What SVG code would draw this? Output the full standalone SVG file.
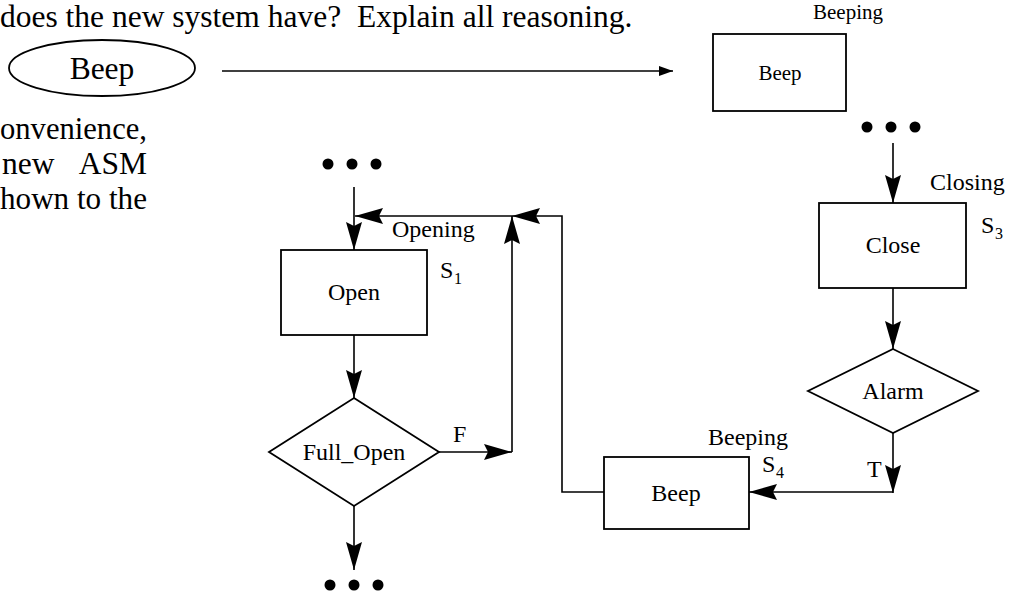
<svg xmlns="http://www.w3.org/2000/svg" width="1017" height="593" viewBox="0 0 1017 593">
  <style>
    text { font-family: "Liberation Serif", "Times New Roman", serif; fill: #000; }
    .body { font-size: 31.5px; white-space: pre; }
    .lbl { font-size: 24px; }
    .sub { font-size: 16px; }
    .small { font-size: 21px; }
    .mid { text-anchor: middle; }
    .shape { fill: #fff; stroke: #000; stroke-width: 1.8; }
    .wire { fill: none; stroke: #000; stroke-width: 1.6; }
    .dot { fill: #000; }
  </style>
  <defs>
    <marker id="head" viewBox="0 0 28 16" markerWidth="28" markerHeight="16" refX="28" refY="8" markerUnits="userSpaceOnUse" orient="auto">
      <path d="M0,0 L28,8 L0,16 L4,8 z" fill="#000"/>
    </marker>
    <marker id="headSmall" viewBox="0 0 14 10" markerWidth="14" markerHeight="10" refX="14" refY="5" markerUnits="userSpaceOnUse" orient="auto">
      <path d="M0,0 L14,5 L0,10 z" fill="#000"/>
    </marker>
  </defs>

  <!-- question text -->
  <g id="question">
    <text class="body" x="0" y="27">does the new system have?  Explain all reasoning.</text>
    <text class="body" x="0" y="139" textLength="147" lengthAdjust="spacingAndGlyphs">onvenience,</text>
    <text class="body" x="2" y="174">new</text>
    <text class="body" x="147" y="174" text-anchor="end">ASM</text>
    <text class="body" x="0" y="209" textLength="147" lengthAdjust="spacingAndGlyphs">hown to the</text>
  </g>

  <!-- legend: Beep output -->
  <g id="beep-output">
    <ellipse class="shape" cx="102" cy="68" rx="93" ry="28"/>
    <text class="body mid" x="102" y="79">Beep</text>
  </g>

  <g id="beep-state-legend">
    <text class="small" x="813" y="19">Beeping</text>
    <rect class="shape" x="713" y="34" width="133" height="77"/>
    <text class="small mid" x="780" y="80">Beep</text>
  </g>

  <!-- continuation dots -->
  <g id="dots-top-left">
    <circle class="dot" cx="328" cy="164" r="5.5"/>
    <circle class="dot" cx="352" cy="164" r="5.5"/>
    <circle class="dot" cx="376" cy="164" r="5.5"/>
  </g>
  <g id="dots-bottom">
    <circle class="dot" cx="330" cy="585" r="5.5"/>
    <circle class="dot" cx="354" cy="585" r="5.5"/>
    <circle class="dot" cx="378" cy="585" r="5.5"/>
  </g>
  <g id="dots-top-right">
    <circle class="dot" cx="867" cy="127" r="5.5"/>
    <circle class="dot" cx="891" cy="127" r="5.5"/>
    <circle class="dot" cx="915" cy="127" r="5.5"/>
  </g>

  <!-- states and decisions -->
  <g id="state-opening">
    <rect class="shape" x="281" y="250" width="146" height="85"/>
    <text class="lbl mid" x="354" y="300">Open</text>
    <text class="lbl" x="392" y="237">Opening</text>
    <text class="lbl" x="440" y="278">S</text>
    <text class="sub" x="454" y="284">1</text>
  </g>

  <g id="decision-full-open">
    <polygon class="shape" points="354,398 439,452 354,506 269,452"/>
    <text class="lbl mid" x="354" y="460">Full_Open</text>
  </g>

  <g id="state-closing">
    <rect class="shape" x="819" y="203" width="147" height="85"/>
    <text class="lbl mid" x="893" y="253">Close</text>
    <text class="lbl" x="930" y="190">Closing</text>
    <text class="lbl" x="981" y="233">S</text>
    <text class="sub" x="995" y="239">3</text>
  </g>

  <g id="decision-alarm">
    <polygon class="shape" points="893,349 978,391 893,433 808,391"/>
    <text class="lbl mid" x="893" y="399">Alarm</text>
  </g>

  <g id="state-beeping">
    <rect class="shape" x="604" y="457" width="145" height="72"/>
    <text class="lbl mid" x="676" y="501">Beep</text>
    <text class="lbl" x="708" y="445">Beeping</text>
    <text class="lbl" x="762" y="472">S</text>
    <text class="sub" x="776" y="478">4</text>
  </g>

  <!-- connectors -->
  <g id="connectors">
    <line class="wire" x1="222" y1="71" x2="673" y2="71" marker-end="url(#headSmall)"/>
    <path class="wire" d="M354,187 V250" marker-end="url(#head)"/>
    <path class="wire" d="M512,216 H355" marker-end="url(#head)"/>
    <path class="wire" d="M604,492 H562 V216 H512" marker-end="url(#head)"/>
    <path class="wire" d="M439,452 H512" marker-end="url(#head)"/>
    <path class="wire" d="M512,452 V216" marker-end="url(#head)"/>
    <path class="wire" d="M354,335 V398" marker-end="url(#head)"/>
    <path class="wire" d="M354,506 V570" marker-end="url(#head)"/>
    <path class="wire" d="M893,143 V203" marker-end="url(#head)"/>
    <path class="wire" d="M893,288 V349" marker-end="url(#head)"/>
    <path class="wire" d="M893,433 V493" marker-end="url(#head)"/>
    <path class="wire" d="M893,492 H749" marker-end="url(#head)"/>
    <text class="lbl" x="453" y="442">F</text>
    <text class="lbl" x="867" y="477">T</text>
  </g>
</svg>
